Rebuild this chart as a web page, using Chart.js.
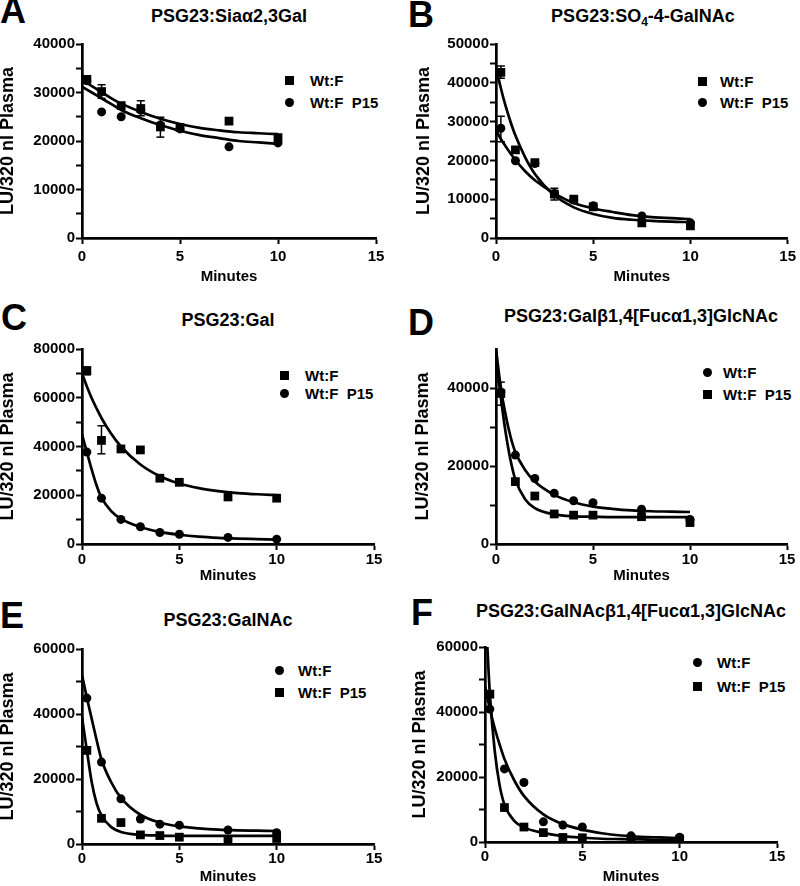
<!DOCTYPE html>
<html>
<head>
<meta charset="utf-8">
<script src="https://cdn.jsdelivr.net/npm/chart.js@4.4.1/dist/chart.umd.min.js"></script>
<style>
  html, body { margin: 0; padding: 0; background: #fff; }
  #figure { position: relative; width: 800px; height: 886px; overflow: hidden;
    font-family: "Liberation Sans", Arial, sans-serif; font-weight: bold; color: #000; }
  #figure canvas { position: absolute; }
  .letter { position: absolute; font-size: 36px; line-height: 36px; }
  .title { position: absolute; font-size: 18px; line-height: 18px; white-space: nowrap; transform: translateX(-50%); }
  .title sub { font-size: 12px; line-height: 0; vertical-align: -4px; }
  .key { position: absolute; font-size: 15px; line-height: 15px; white-space: pre; }
  .mark { position: absolute; background: #000; }
</style>
</head>
<body>
<div id="figure"></div>
<script>
// sampling times (minutes) and the x positions used to trace the fitted curves
const minutes = [0.25, 1, 2, 3, 4, 5, 7.5, 10];
const fitMinutes = [0, 0.25, 0.5, 0.75, 1, 1.5, 2, 3, 4, 5, 6, 7, 8, 9, 10];

// A  PSG23:Siaa2,3Gal
const aWtF = [32700, 30200, 27300, 26700, 22900, 22800, 24100, 20700];
const aP15 = [32400, 26000, 25000, 26400, 23300, 22500, 18800, 19600];
const aFitWtF = [32600, 32000, 31300, 30700, 30100, 28800, 27700, 26000, 24600, 23500, 22700, 22200, 21800, 21600, 21400];
const aFitP15 = [31200, 30600, 30000, 29400, 28800, 27600, 26400, 24700, 23300, 22100, 21200, 20600, 20000, 19700, 19400];
const aErrX = [0.25, 1, 3, 4];
const aErrLow = [32100, 28800, 25200, 20800];
const aErrHigh = [33300, 31600, 28300, 24900];

// B  PSG23:SO4-4-GalNAc
const bWtF = [42700, 22700, 19400, 11300, 10000, 8000, 3900, 3100];
const bP15 = [28300, 19900, 19200, 11500, 9800, 8300, 5700, 3900];
const bFitWtF = [44000, 38600, 33900, 29900, 26400, 20800, 16500, 11000, 7900, 6200, 5200, 4700, 4400, 4200, 4100];
const bFitP15 = [27800, 25500, 23600, 21800, 20100, 17200, 14900, 11500, 9000, 7600, 6700, 5900, 5400, 5100, 4900];
const bErrX = [0.25, 0.25, 3];
const bErrLow = [41200, 24800, 9800];
const bErrHigh = [44300, 31400, 12800];

// C  PSG23:Gal
const cWtF = [71100, 42500, 39000, 38600, 27000, 25300, 19300, 18800];
const cP15 = [37700, 18800, 10100, 7100, 4700, 4000, 2700, 2000];
const cFitWtF = [70000, 64600, 59800, 55600, 51700, 45200, 40000, 32600, 27800, 24800, 22900, 21700, 20900, 20400, 20100];
const cFitP15 = [45000, 37700, 30500, 24000, 19000, 13500, 10300, 7000, 5000, 3800, 3000, 2500, 2200, 2000, 1800];
const cErrX = [0.25, 1];
const cErrLow = [69400, 37000];
const cErrHigh = [72600, 48500];

// D  PSG23:Galb1,4[Fuca1,3]GlcNAc
const dWtF = [39000, 22800, 16800, 13000, 11100, 10600, 8900, 6300];
const dP15 = [38600, 16000, 12300, 7700, 7400, 7400, 7000, 5500];
const dFitWtF = [50000, 40000, 33000, 27500, 23500, 19000, 16000, 12600, 10700, 9600, 9000, 8600, 8400, 8300, 8200];
const dFitP15 = [48000, 37500, 28500, 21500, 16500, 11500, 9200, 7600, 7100, 7000, 6900, 6900, 6900, 6900, 6900];
const dErrX = [0.25];
const dErrLow = [35600];
const dErrHigh = [41500];

// E  PSG23:GalNAc
const eWtF = [44900, 25200, 13900, 7700, 6100, 5800, 4300, 3500];
const eP15 = [28800, 7900, 6600, 2800, 2600, 2100, 1400, 1700];
const eFitWtF = [52000, 45000, 38500, 32000, 26000, 19000, 14200, 9000, 6600, 5400, 4800, 4400, 4200, 4100, 4000];
const eFitP15 = [39000, 28800, 19000, 12500, 8800, 5200, 3700, 2800, 2600, 2500, 2500, 2500, 2500, 2500, 2500];

// F  PSG23:GalNAcb1,4[Fuca1,3]GlcNAc
const fWtF = [40900, 22500, 18300, 6200, 5200, 4600, 1900, 1500];
const fP15 = [45500, 10600, 4600, 2900, 1400, 1300, 1100, 900];
const fFitWtF = [48000, 41000, 35000, 30000, 25500, 19000, 14200, 8500, 5500, 3800, 2700, 2000, 1600, 1400, 1200];
const fFitP15 = [75000, 45500, 28000, 17500, 11500, 6500, 4500, 2800, 1800, 1300, 1000, 900, 800, 700, 700];

const xTicks = [0, 5, 10, 15];
const yAxisTitle = 'LU/320 nl Plasma';
const xAxisTitle = 'Minutes';
const seriesNames = ['Wt:F', 'Wt:F  P15'];

const FONT = '"Liberation Sans", Arial, sans-serif';

const panels = [
  { letter: 'A', title: 'PSG23:Siaα2,3Gal', wtF: aWtF, p15: aP15, fitWtF: aFitWtF, fitP15: aFitP15,
    errX: aErrX, errLow: aErrLow, errHigh: aErrHigh, yMax: 40000, yStep: 5000, yLabelStep: 10000, wtFShape: 'rect',
    box: { x: 0, y: 0, w: 400, h: 290 }, area: { l: 82, r: 376, t: 44, b: 238 },
    yTitlePad: -3, xTitlePad: 4, xTickPad: 4, letterAt: [0, -2], titleAt: [229, 16], keyAt: [289, 80, 102.5, 310] },
  { letter: 'B', title: 'PSG23:SO<sub>4</sub>-4-GalNAc', wtF: bWtF, p15: bP15, fitWtF: bFitWtF, fitP15: bFitP15,
    errX: bErrX, errLow: bErrLow, errHigh: bErrHigh, yMax: 50000, yStep: 5000, yLabelStep: 10000, wtFShape: 'rect',
    box: { x: 400, y: 0, w: 400, h: 290 }, area: { l: 96, r: 390, t: 44, b: 238 },
    yTitlePad: 13, xTitlePad: 4, xTickPad: 4, letterAt: [408, 2], titleAt: [643, 16], keyAt: [702, 81, 102, 720] },
  { letter: 'C', title: 'PSG23:Gal', wtF: cWtF, p15: cP15, fitWtF: cFitWtF, fitP15: cFitP15,
    errX: cErrX, errLow: cErrLow, errHigh: cErrHigh, yMax: 80000, yStep: 10000, yLabelStep: 20000, wtFShape: 'rect',
    box: { x: 0, y: 290, w: 400, h: 300 }, area: { l: 82, r: 374, t: 59, b: 254 },
    yTitlePad: -3, xTitlePad: 5, xTickPad: 1, letterAt: [1, 305], titleAt: [228, 320], keyAt: [284, 375.5, 393.5, 305] },
  { letter: 'D', title: 'PSG23:Galβ1,4[Fucα1,3]GlcNAc', wtF: dWtF, p15: dP15, fitWtF: dFitWtF, fitP15: dFitP15,
    errX: dErrX, errLow: dErrLow, errHigh: dErrHigh, yMax: 50000, yStep: 10000, yLabelStep: 20000, wtFShape: 'circle',
    hideTopTick: true,
    box: { x: 400, y: 290, w: 400, h: 300 }, area: { l: 96, r: 387, t: 59, b: 254 },
    yTitlePad: 12, xTitlePad: 5, xTickPad: 1, letterAt: [408, 310], titleAt: [641, 316], keyAt: [707, 372, 394.5, 723] },
  { letter: 'E', title: 'PSG23:GalNAc', wtF: eWtF, p15: eP15, fitWtF: eFitWtF, fitP15: eFitP15,
    errX: [], errLow: [], errHigh: [], yMax: 60000, yStep: 10000, yLabelStep: 20000, wtFShape: 'circle',
    box: { x: 0, y: 590, w: 400, h: 296 }, area: { l: 82, r: 374, t: 59, b: 254 },
    yTitlePad: -3, xTitlePad: 0, xTickPad: 0, letterAt: [0, 603], titleAt: [228, 620], keyAt: [279, 670, 692, 298] },
  { letter: 'F', title: 'PSG23:GalNAcβ1,4[Fucα1,3]GlcNAc', wtF: fWtF, p15: fP15, fitWtF: fFitWtF, fitP15: fFitP15,
    errX: [], errLow: [], errHigh: [], yMax: 60000, yStep: 10000, yLabelStep: 20000, wtFShape: 'circle',
    box: { x: 400, y: 590, w: 400, h: 296 }, area: { l: 85, r: 377, t: 57, b: 252 },
    yTitlePad: 9, xTitlePad: 0, xTickPad: 0, letterAt: [411, 600], titleAt: [631, 611], keyAt: [697.5, 662.5, 686.7, 717] }
];

const pts = (xs, ys) => xs.map((x, i) => ({ x: x, y: ys[i] }));
const marker = shape => shape === 'rect'
  ? { pointStyle: 'rect', pointRadius: 6.2 }
  : { pointStyle: 'circle', pointRadius: 4.5 };

const fig = document.getElementById('figure');

function addDiv(cls, html, left, top) {
  const d = document.createElement('div');
  d.className = cls;
  d.innerHTML = html;
  d.style.left = left + 'px';
  d.style.top = top + 'px';
  fig.appendChild(d);
  return d;
}

function addKeyRow(shape, cx, cy, textLeft, text) {
  const m = document.createElement('div');
  m.className = 'mark';
  const size = 9;
  m.style.width = size + 'px';
  m.style.height = size + 'px';
  m.style.left = (cx - size / 2) + 'px';
  m.style.top = (cy - size / 2) + 'px';
  if (shape === 'circle') m.style.borderRadius = '50%';
  fig.appendChild(m);
  const t = addDiv('key', '', textLeft, cy - 7.3);
  t.textContent = text;
}

panels.forEach(p => {
  addDiv('letter', p.letter, p.letterAt[0], p.letterAt[1] - 4.7);
  addDiv('title', p.title, p.titleAt[0], p.titleAt[1] - 8.8);

  const p15Shape = p.wtFShape === 'rect' ? 'circle' : 'rect';
  addKeyRow(p.wtFShape, p.keyAt[0], p.keyAt[1], p.keyAt[3], seriesNames[0]);
  addKeyRow(p15Shape, p.keyAt[0], p.keyAt[2], p.keyAt[3], seriesNames[1]);

  const canvas = document.createElement('canvas');
  canvas.width = p.box.w;
  canvas.height = p.box.h;
  canvas.style.left = p.box.x + 'px';
  canvas.style.top = p.box.y + 'px';
  canvas.style.width = p.box.w + 'px';
  canvas.style.height = p.box.h + 'px';
  fig.appendChild(canvas);

  const datasets = [
    Object.assign({ label: seriesNames[0], data: pts(minutes, p.wtF), showLine: false,
      backgroundColor: '#000', borderColor: '#000', pointBorderWidth: 0 }, marker(p.wtFShape)),
    Object.assign({ label: seriesNames[1], data: pts(minutes, p.p15), showLine: false,
      backgroundColor: '#000', borderColor: '#000', pointBorderWidth: 0 }, marker(p15Shape)),
    { label: 'fit ' + seriesNames[0], data: pts(fitMinutes, p.fitWtF), borderColor: '#000', borderWidth: 2.7,
      pointRadius: 0, cubicInterpolationMode: 'monotone', fill: false },
    { label: 'fit ' + seriesNames[1], data: pts(fitMinutes, p.fitP15), borderColor: '#000', borderWidth: 2.7,
      pointRadius: 0, cubicInterpolationMode: 'monotone', fill: false }
  ];
  p.errX.forEach((x, i) => {
    datasets.push({ label: 'sem', data: [{ x: x, y: p.errLow[i] }, { x: x, y: p.errHigh[i] }],
      borderColor: '#000', borderWidth: 1.5, pointStyle: 'line', pointRadius: 4,
      pointBorderWidth: 1.5, pointBorderColor: '#000', fill: false });
  });

  const tickFont = { family: FONT, size: 15, weight: 'bold' };

  new Chart(canvas.getContext('2d'), {
    type: 'line',
    data: { datasets: datasets },
    options: {
      responsive: false,
      animation: false,
      events: [],
      layout: { padding: { left: 0, top: p.area.t, right: p.box.w - p.area.r, bottom: 0 } },
      plugins: { legend: { display: false }, tooltip: { enabled: false } },
      scales: {
        x: {
          type: 'linear', min: 0, max: 15,
          afterBuildTicks: s => { s.ticks = xTicks.map(v => ({ value: v })); },
          ticks: { font: tickFont, color: '#000', padding: p.xTickPad, autoSkip: false, maxRotation: 0,
            callback: v => String(v) },
          grid: { drawOnChartArea: false, tickLength: 6, tickWidth: 2, tickColor: '#000' },
          border: { color: '#000', width: 2.7 },
          title: { display: true, text: xAxisTitle, color: '#000',
            font: { family: FONT, size: 15, weight: 'bold' }, padding: { top: 0, bottom: p.xTitlePad } },
          afterFit: s => { s.height = p.box.h - p.area.b; }
        },
        y: {
          type: 'linear', min: 0, max: p.yMax,
          ticks: { stepSize: p.yStep, font: tickFont, color: '#000', padding: 1, autoSkip: false,
            callback: v => (v % p.yLabelStep === 0 ? String(v) : '') },
          grid: { drawOnChartArea: false, tickLength: 6, tickWidth: 2,
            tickColor: c => (p.hideTopTick && c.tick && c.tick.value === p.yMax ? 'rgba(0,0,0,0)' : '#000') },
          border: { color: '#000', width: 2.7 },
          title: { display: true, text: yAxisTitle, color: '#000',
            font: { family: FONT, size: 18, weight: 'bold' }, padding: { top: p.yTitlePad, bottom: 0 } },
          afterFit: s => { s.width = p.area.l; }
        }
      }
    }
  });
});
</script>
</body>
</html>
